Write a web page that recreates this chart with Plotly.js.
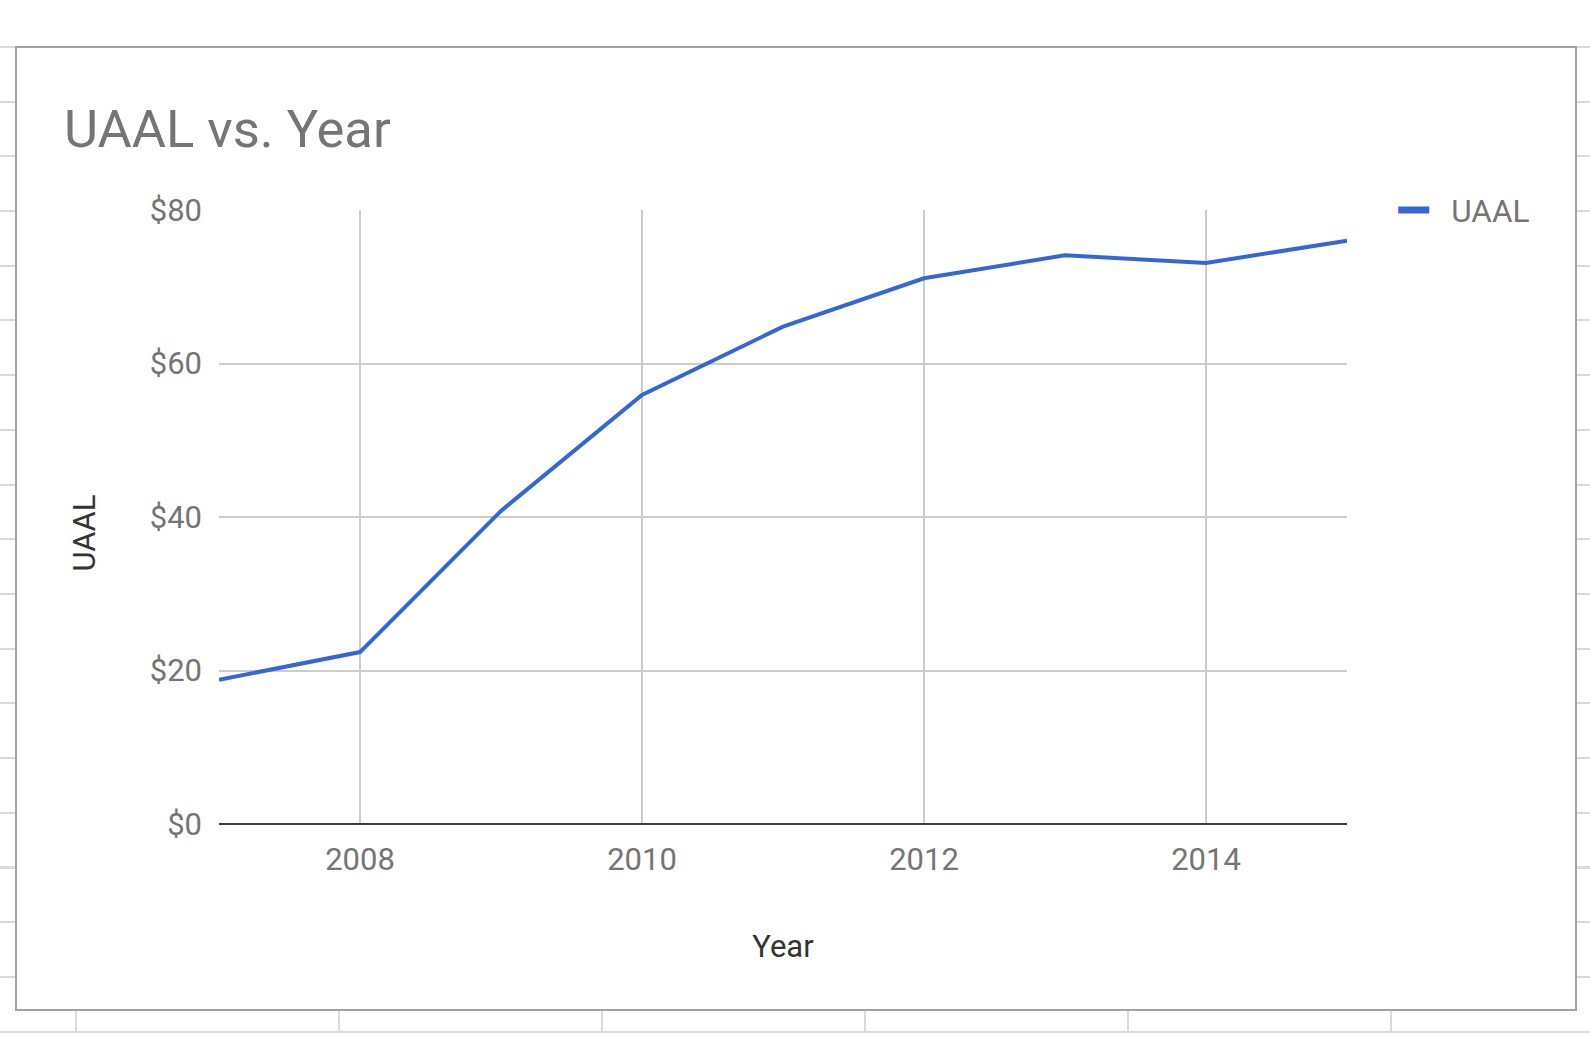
<!DOCTYPE html>
<html>
<head>
<meta charset="utf-8">
<script src="https://cdn.plot.ly/plotly-3.0.1.min.js"></script>
<style>
  html, body { margin: 0; padding: 0; background: #ffffff; width: 1590px; height: 1048px; overflow: hidden; }
  #sheet {
    position: absolute; left: 0; top: 46px; width: 1590px; height: 987px;
    background-image:
      repeating-linear-gradient(to bottom, #dadada 0px, #dadada 2px, transparent 2px, transparent 54.7px),
      repeating-linear-gradient(to right, transparent 0px, transparent 75px, #dadada 75px, #dadada 77px, transparent 77px, transparent 263px);
  }
  #frame {
    position: absolute; left: 15px; top: 46px; width: 1558px; height: 961px;
    border: 2px solid #a2a2a2; background: #ffffff;
  }
  #chart { width: 1558px; height: 961px; }
</style>
</head>
<body>
<div id="sheet"></div>
<div id="frame"><div id="chart"></div></div>
<script>
const years = [2007, 2008, 2009, 2010, 2011, 2012, 2013, 2014, 2015];
const uaal = [18.8, 22.4, 40.8, 55.9, 64.8, 71.1, 74.1, 73.1, 76.0];
const seriesName = "UAAL";
const yTicks = [0, 20, 40, 60, 80];
const yTickText = ["$0", "$20", "$40", "$60", "$80"];
const xTicks = [2008, 2010, 2012, 2014];
const xTickText = ["2008", "2010", "2012", "2014"];

const trace = {
  x: years, y: uaal, type: "scatter", mode: "lines", name: seriesName,
  line: { color: "#3367d6", width: 4 },
  hoverinfo: "x+y"
};

const layout = {
  width: 1558, height: 961,
  margin: { l: 202, r: 228, t: 162, b: 185 },
  paper_bgcolor: "#ffffff", plot_bgcolor: "#ffffff",
  font: { family: "Roboto, 'Open Sans', sans-serif", color: "#757575", size: 31 },
  title: {
    text: "UAAL vs. Year",
    font: { family: "Roboto, sans-serif", size: 52.5, color: "#757575" },
    xref: "container", x: 47 / 1558, xanchor: "left",
    yref: "container", y: 1 - 81 / 961, yanchor: "middle"
  },
  xaxis: {
    range: [2007, 2015], tickmode: "array", tickvals: xTicks, ticktext: xTickText,
    showgrid: true, gridcolor: "#cccccc", gridwidth: 2,
    zeroline: false, showline: false, ticks: "",
    ticklabelstandoff: 14,
    tickfont: { size: 31, color: "#757575" },
    title: { text: "Year", font: { size: 31, color: "#333333" }, standoff: 58 },
    fixedrange: true
  },
  yaxis: {
    range: [0, 80], tickmode: "array", tickvals: yTicks, ticktext: yTickText,
    showgrid: true, gridcolor: "#cccccc", gridwidth: 2,
    zeroline: true, zerolinecolor: "#3a3a3a", zerolinewidth: 2,
    showline: false, ticks: "",
    ticklabelstandoff: 16,
    tickfont: { size: 31, color: "#757575" },
    title: { text: "UAAL", font: { size: 31, color: "#333333" }, standoff: 44 },
    fixedrange: true
  },
  showlegend: true,
  legend: {
    x: 1.041, xanchor: "left", y: 1.0, yanchor: "middle",
    itemwidth: 48,
    font: { size: 31.5, color: "#757575" },
    bgcolor: "rgba(0,0,0,0)"
  }
};

function finishStyling() {
  document.querySelectorAll("#chart .legend .legendlines path").forEach(function (p) {
    p.setAttribute("d", "M5,0h31");
    p.style.strokeWidth = "7px";
  });
  document.querySelectorAll("#chart .g-ytitle").forEach(function (g) {
    g.setAttribute("transform", "translate(0,16)");
  });
}

Plotly.newPlot("chart", [trace], layout, { displayModeBar: false, staticPlot: true })
  .then(function (gd) {
    finishStyling();
    gd.on("plotly_afterplot", finishStyling);
  });
</script>
</body>
</html>
